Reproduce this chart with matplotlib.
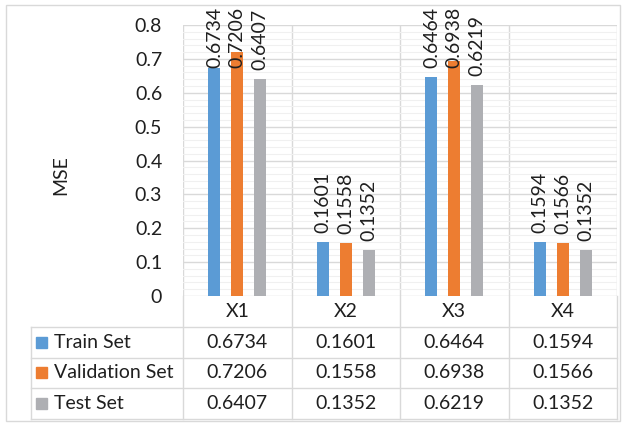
import numpy as np
import matplotlib
matplotlib.use("Agg")
import matplotlib.pyplot as plt
from matplotlib.patches import Rectangle

plt.rcParams['font.family'] = ['Lato', 'DejaVu Sans']

categories = ["X1", "X2", "X3", "X4"]
series_names = ["Train Set", "Validation Set", "Test Set"]
train = [0.6734, 0.1601, 0.6464, 0.1594]
valid = [0.7206, 0.1558, 0.6938, 0.1566]
test = [0.6407, 0.1352, 0.6219, 0.1352]
series = [train, valid, test]
colors = ["#5B9BD5", "#ED7D31", "#AEAFB3"]
grid_c = "#D9D9D9"
txt_c = "#1F1F1F"
fs = 14

W, H = 625, 425
fig = plt.figure(figsize=(6.25, 4.25), dpi=100)

# outer chart border
fig.patches.append(Rectangle((6 / W, 1 - 421 / H), 614 / W, 416 / H,
                             transform=fig.transFigure, fill=False,
                             edgecolor=grid_c, lw=1))

# main plot area
ax = fig.add_axes([183 / W, 1 - 296 / H, 434 / W, 271 / H])
x = np.arange(len(categories))
offsets = [-0.21, 0.0, 0.21]
bw = 0.11
for vals, off, c in zip(series, offsets, colors):
    ax.bar(x + off, vals, width=bw, color=c, zorder=3)
    for xi, v in zip(x, vals):
        ybase = min(v + 0.0266, 0.673)
        ax.text(xi + off, ybase, "%.4f" % v, rotation=90, ha="center", va="bottom",
                fontsize=fs, color=txt_c, clip_on=False, zorder=4)

ax.set_xlim(-0.5, 3.5)
ax.set_ylim(0, 0.8)
ax.set_yticks(np.arange(0, 0.81, 0.1))
ax.set_yticklabels(["0"] + ["%.1f" % t for t in np.arange(0.1, 0.81, 0.1)])
ax.set_yticks(np.arange(0, 0.8, 0.02), minor=True)
ax.tick_params(axis="y", which="both", length=0, pad=15, labelsize=fs, labelcolor=txt_c)
ax.set_xticks([])
ax.grid(axis="y", which="major", color=grid_c, lw=1, zorder=0)
ax.grid(axis="y", which="minor", color="#F0F0F0", lw=0.8, zorder=0)
for b in np.arange(-0.5, 3.6, 1.0):
    ax.axvline(b, color=grid_c, lw=1, zorder=1)
for s in ax.spines.values():
    s.set_visible(False)

fig.text(61 / W, 1 - 175 / H, "MSE", rotation=90, ha="center", va="center",
         fontsize=fs, color=txt_c)

# data table
left_x = -0.5 - (183 - 31) / 108.5
tx = fig.add_axes([31 / W, 1 - 419 / H, 586 / W, 123 / H])
tx.set_xlim(left_x, 3.5)
tx.set_ylim(4, 0)
tx.axis("off")
for yy in [1, 2, 3, 4]:
    tx.plot([left_x, 3.5], [yy, yy], color=grid_c, lw=1, clip_on=False)
tx.plot([left_x, left_x], [1, 4], color=grid_c, lw=1, clip_on=False)
for b in np.arange(-0.5, 3.6, 1.0):
    tx.plot([b, b], [0, 4], color=grid_c, lw=1, clip_on=False)
for i, cat in enumerate(categories):
    tx.text(i, 0.5, cat, ha="center", va="center", fontsize=fs, color=txt_c)
for r, (name, vals, c) in enumerate(zip(series_names, series, colors)):
    yy = r + 1.5
    tx.add_patch(Rectangle((left_x + 0.045, yy - 0.18), 0.1, 0.36, color=c))
    tx.text(left_x + 0.21, yy, name, ha="left", va="center", fontsize=fs, color=txt_c)
    for i, v in enumerate(vals):
        tx.text(i, yy, "%.4f" % v, ha="center", va="center", fontsize=fs, color=txt_c)

fig.savefig("out.png", dpi=100)
